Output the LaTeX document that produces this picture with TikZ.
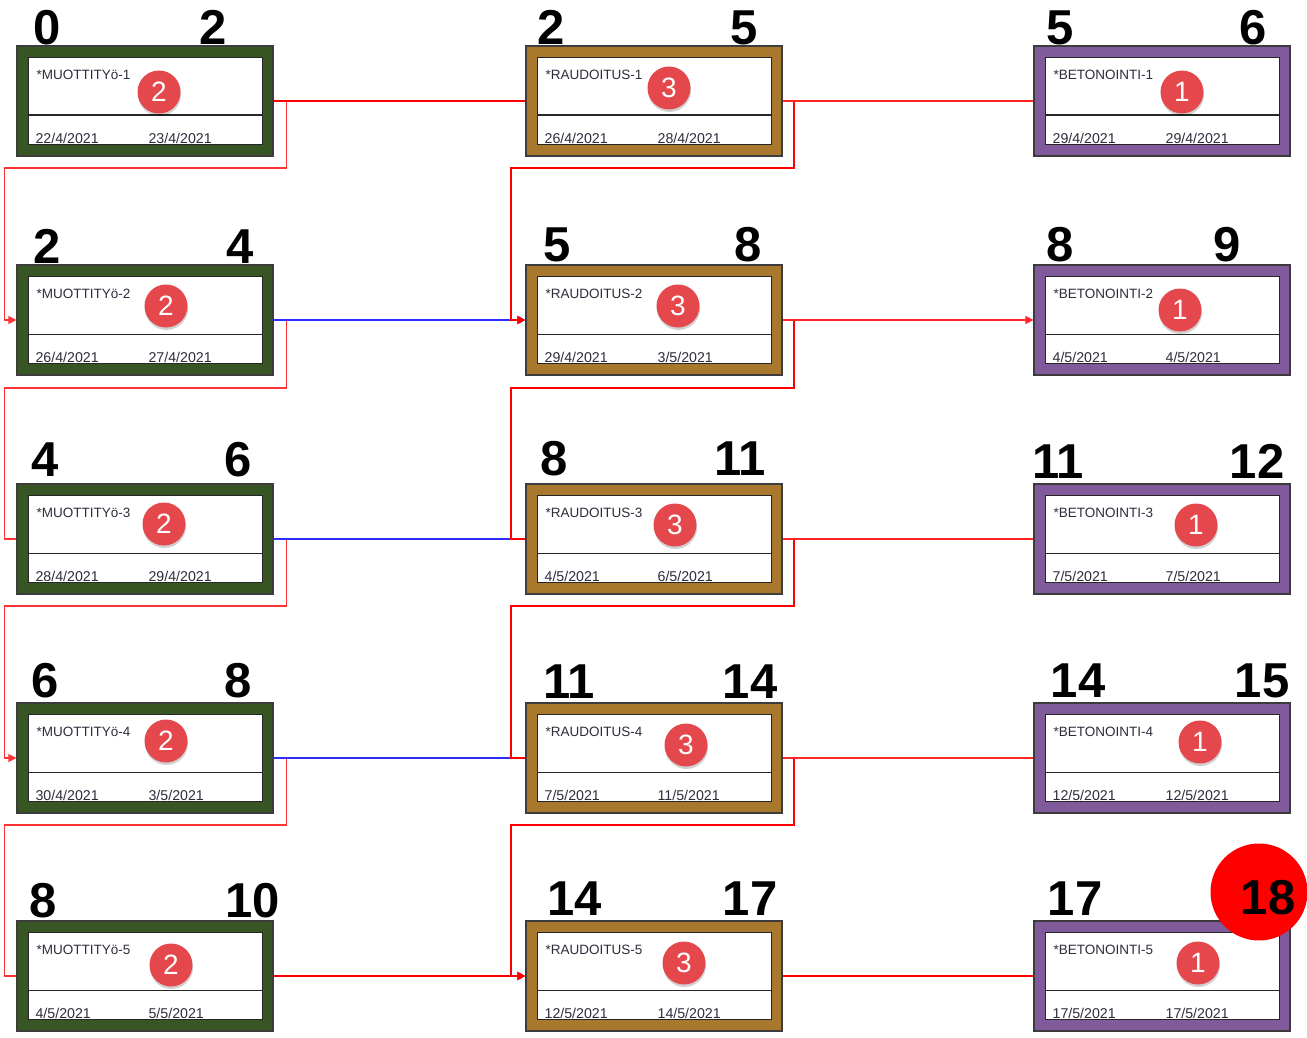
\documentclass[tikz,border=0pt]{standalone}
\usepackage{fontspec}
\setmainfont{Liberation Sans}
\usetikzlibrary{arrows.meta,calc}
\definecolor{gfill}{RGB}{55,86,35}
\definecolor{bfill}{RGB}{168,121,45}
\definecolor{pfill}{RGB}{128,90,155}
\definecolor{badgered}{RGB}{228,72,76}
\definecolor{txt}{RGB}{45,45,60}
\definecolor{lblue}{RGB}{45,45,255}
\definecolor{edge}{RGB}{60,60,60}
\tikzset{
  task/.style={draw=edge, line width=1.2pt, minimum width=256pt, minimum height=110pt, inner sep=0pt},
  greenbox/.style={task, fill=gfill},
  brownbox/.style={task, fill=bfill},
  purplebox/.style={task, fill=pfill},
  lbl/.style={font=\fontsize{13.5}{14}\selectfont, text=txt, inner sep=0pt, anchor=base west},
  datelbl/.style={lbl, font=\fontsize{14.2}{15}\selectfont},
  bignum/.style={font=\fontsize{49}{50}\selectfont\bfseries, inner sep=0pt, anchor=base},
  badgec/.style={circle, fill=badgered, minimum size=43pt, inner sep=0pt, text=white,
    font=\fontsize{28}{28}\selectfont,
    preaction={fill=black, opacity=.18, transform canvas={xshift=0.5pt, yshift=-2.5pt}}},
  tip/.style={-{Triangle[length=8pt,width=8pt]}},
  mbranch/.style={draw=red!80, line width=1.3pt},
  rbranch/.style={draw=red, line width=2pt},
  redthin/.style={draw=red!85, line width=1.3pt},
  redmid/.style={draw=red, line width=2pt},
  redthick/.style={draw=red, line width=2.8pt},
  bluel/.style={draw=lblue, line width=1.3pt},
}
\newcommand\task[7]{%
  \node[#2] (#1) at (#3,#4) {};
  \draw[fill=white, draw=black!85, line width=1.3pt] ($(#1.north west)+(12,12)$) rectangle ($(#1.south east)+(-11,-12)$);
  \draw[black!85, line width=1.2pt] ($(#1.south west)+(12,-41.5)$) -- ($(#1.south east)+(-11,-41.5)$);
  \node[lbl] (#1-name) at ($(#1.north west)+(20,34)$) {#5};
  \node[datelbl] (#1-d1) at ($(#1.south west)+(19,-13.5)$) {#6};
  \node[datelbl] (#1-d2) at ($(#1.south west)+(132,-13.5)$) {#7};
}
\newcommand\badge[4]{\node[badgec] (#1-b) at (#3,#4) {#2};}
\newcommand\nums[6]{%
  \node[bignum] (#1-es) at (#3,#6) {#2};
  \node[bignum] (#1-ef) at (#5,#6) {#4};
}
\begin{document}
\begin{tikzpicture}[x=1pt,y=-1pt]
\useasboundingbox (0,0) rectangle (1307,1038);
% column 1
\task{m1}{greenbox}{145}{101}{*MUOTTITYö-1}{22/4/2021}{23/4/2021}
\task{m2}{greenbox}{145}{320}{*MUOTTITYö-2}{26/4/2021}{27/4/2021}
\task{m3}{greenbox}{145}{539}{*MUOTTITYö-3}{28/4/2021}{29/4/2021}
\task{m4}{greenbox}{145}{758}{*MUOTTITYö-4}{30/4/2021}{3/5/2021}
\task{m5}{greenbox}{145}{976}{*MUOTTITYö-5}{4/5/2021}{5/5/2021}
% column 2
\task{r1}{brownbox}{654}{101}{*RAUDOITUS-1}{26/4/2021}{28/4/2021}
\task{r2}{brownbox}{654}{320}{*RAUDOITUS-2}{29/4/2021}{3/5/2021}
\task{r3}{brownbox}{654}{539}{*RAUDOITUS-3}{4/5/2021}{6/5/2021}
\task{r4}{brownbox}{654}{758}{*RAUDOITUS-4}{7/5/2021}{11/5/2021}
\task{r5}{brownbox}{654}{976}{*RAUDOITUS-5}{12/5/2021}{14/5/2021}
% column 3
\task{b1}{purplebox}{1162}{101}{*BETONOINTI-1}{29/4/2021}{29/4/2021}
\task{b2}{purplebox}{1162}{320}{*BETONOINTI-2}{4/5/2021}{4/5/2021}
\task{b3}{purplebox}{1162}{539}{*BETONOINTI-3}{7/5/2021}{7/5/2021}
\task{b4}{purplebox}{1162}{758}{*BETONOINTI-4}{12/5/2021}{12/5/2021}
\task{b5}{purplebox}{1162}{976}{*BETONOINTI-5}{17/5/2021}{17/5/2021}
% badges
\badge{m1}{2}{159}{92}  \badge{m2}{2}{166}{306} \badge{m3}{2}{164}{524}
\badge{m4}{2}{166}{741} \badge{m5}{2}{171}{965}
\badge{r1}{3}{669}{88}  \badge{r2}{3}{678}{306} \badge{r3}{3}{675}{525}
\badge{r4}{3}{686}{745} \badge{r5}{3}{684}{963}
\badge{b1}{1}{1182}{92} \badge{b2}{1}{1180}{310} \badge{b3}{1}{1196}{525}
\badge{b4}{1}{1200}{742} \badge{b5}{1}{1198}{963}
% early start / finish numbers
\nums{m1}{0}{47}{2}{213}{45}
\nums{m2}{2}{47}{4}{240}{263}
\nums{m3}{4}{45}{6}{238}{476}
\nums{m4}{6}{45}{8}{238}{697}
\nums{m5}{8}{43}{10}{253}{917}
\nums{r1}{2}{551}{5}{744}{45}
\nums{r2}{5}{557}{8}{748}{261}
\nums{r3}{8}{554}{11}{740}{475}
\nums{r4}{11}{569}{14}{750}{698}
\nums{r5}{14}{575}{17}{750}{915}
\nums{b1}{5}{1060}{6}{1253}{45}
\nums{b2}{8}{1060}{9}{1227}{261}
\nums{b3}{11}{1058}{12}{1257}{478}
\nums{b4}{14}{1078}{15}{1262}{697}
\node[circle, fill=red, minimum size=97pt, inner sep=0pt] (fin) at (1259,892) {};
\node[bignum] (b5-es) at (1075,915) {17};
\node[bignum] (b5-ef) at (1268,914) {18};
% connectors: column 1 -> column 1 (branches)
\draw[mbranch,tip] (m1.east) -- ++(13,0) -- ++(0,67) -| ($(m2.west)+(-12,0)$) -- (m2.west);
\draw[mbranch] (m2.east) -- ++(13,0) -- ++(0,68) -| ($(m3.west)+(-12,0)$) -- (m3.west);
\draw[mbranch,tip] (m3.east) -- ++(13,0) -- ++(0,67) -| ($(m4.west)+(-12,0)$) -- (m4.west);
\draw[mbranch] (m4.east) -- ++(13,0) -- ++(0,67) -| ($(m5.west)+(-12,0)$) -- (m5.west);
% column 1 -> column 2
\draw[redmid] (m1.east) -- (r1.west);
\draw[bluel,tip] (m2.east) -- (r2.west);
\draw[bluel] (m3.east) -- (r3.west);
\draw[bluel] (m4.east) -- (r4.west);
\draw[redmid,tip] (m5.east) -- (r5.west);
% column 2 -> column 2 (branches)
\draw[rbranch,tip] (r1.east) -- ++(11,0) -- ++(0,67) -| ($(r2.west)+(-14,0)$) -- (r2.west);
\draw[rbranch] (r2.east) -- ++(11,0) -- ++(0,68) -| ($(r3.west)+(-14,0)$) -- (r3.west);
\draw[rbranch] (r3.east) -- ++(11,0) -- ++(0,67) -| ($(r4.west)+(-14,0)$) -- (r4.west);
\draw[rbranch,tip] (r4.east) -- ++(11,0) -- ++(0,67) -| ($(r5.west)+(-14,0)$) -- (r5.west);
% column 2 -> column 3
\draw[redthin] (r1.east) -- (b1.west);
\draw[redthin,tip] (r2.east) -- (b2.west);
\draw[redthin] (r3.east) -- (b3.west);
\draw[redthin] (r4.east) -- (b4.west);
\draw[redthick] (r5.east) -- (b5.west);
\end{tikzpicture}
\end{document}
